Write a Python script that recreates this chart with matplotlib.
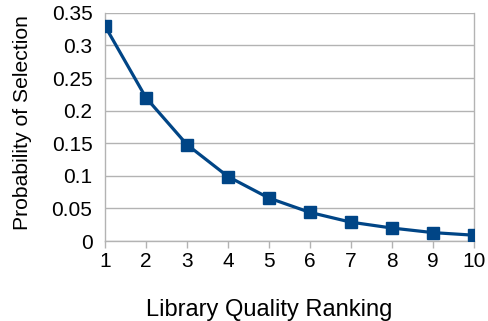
import matplotlib.pyplot as plt

plt.rcParams["font.family"] = ["Liberation Sans", "DejaVu Sans"]

rank = [1, 2, 3, 4, 5, 6, 7, 8, 9, 10]
prob = [0.33, 0.22, 0.148, 0.099, 0.066, 0.044, 0.029, 0.020, 0.013, 0.009]
y_ticks = [0, 0.05, 0.1, 0.15, 0.2, 0.25, 0.3, 0.35]
y_tick_labels = ["0", "0.05", "0.1", "0.15", "0.2", "0.25", "0.3", "0.35"]

fig = plt.figure(figsize=(4.88, 3.21), dpi=100)
ax = fig.add_axes([0.215, 0.249, 0.756, 0.711])

ax.plot(rank, prob, color="#004586", lw=2.3, marker="s", ms=8.5, zorder=3)

ax.set_xlim(1, 10)
ax.set_ylim(0, 0.35)
ax.set_xticks(rank)
ax.set_yticks(y_ticks)
ax.set_yticklabels(y_tick_labels)
ax.tick_params(axis="x", labelsize=15, length=5, width=1, color="#b3b3b3", pad=3)
ax.tick_params(axis="y", labelsize=15, length=0, pad=9)
ax.grid(axis="y", color="#b3b3b3", lw=1)
ax.set_axisbelow(True)

ax.spines["top"].set_visible(False)
for s in ["left", "right", "bottom"]:
    ax.spines[s].set_color("#b3b3b3")
    ax.spines[s].set_linewidth(1)

ax.set_xlabel("Library Quality Ranking", fontsize=17, labelpad=20)
ax.xaxis.label.set_x(0.444)
ax.set_ylabel("Probability of Selection", fontsize=15.2, labelpad=14)
ax.yaxis.label.set_y(0.518)

fig.savefig("out.png", dpi=100)
